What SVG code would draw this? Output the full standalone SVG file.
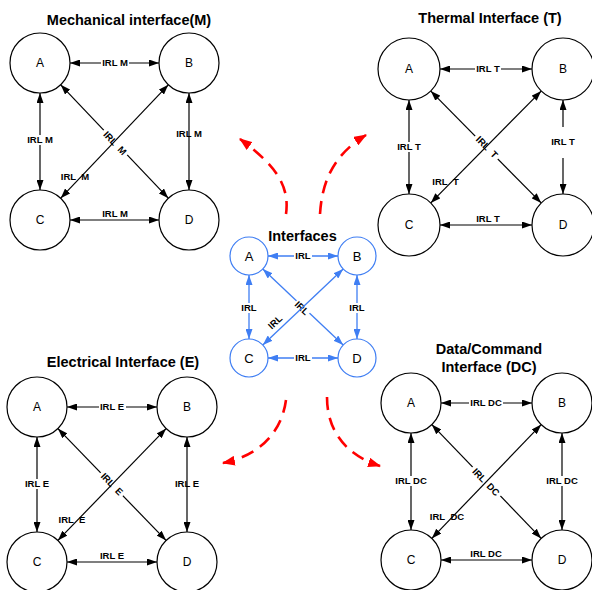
<svg xmlns="http://www.w3.org/2000/svg" width="592" height="590" viewBox="0 0 592 590">
  <style>
    .title { font-family: "Liberation Sans", Arial, sans-serif; font-weight: bold; font-size: 14.5px; text-anchor: middle; fill: #000; }
    .letter { font-family: "Liberation Sans", Arial, sans-serif; font-size: 12px; text-anchor: middle; fill: #000; }
    .letter-c { font-family: "Liberation Sans", Arial, sans-serif; font-size: 13px; text-anchor: middle; fill: #000; }
    .lbl { font-family: "Liberation Sans", Arial, sans-serif; font-weight: bold; font-size: 9.5px; text-anchor: middle; fill: #000; }
    .node { fill: #fff; stroke: #000; stroke-width: 1.2; }
    .node-c { fill: #fff; stroke: #3f7ef3; stroke-width: 1.2; }
    .link { stroke: #000; stroke-width: 1.2; fill: none; marker-start: url(#headK); marker-end: url(#headK); }
    .link-c { stroke: #3f7ef3; stroke-width: 1.3; fill: none; marker-start: url(#headB); marker-end: url(#headB); }
    .bg { fill: #fff; }
    .flow { stroke: #ff0000; stroke-width: 2.6; fill: none; stroke-dasharray: 13 8; marker-end: url(#headR); }
  </style>
  <defs>
    <marker id="headK" viewBox="0 0 10 7" refX="10" refY="3.5" markerWidth="10" markerHeight="7" markerUnits="userSpaceOnUse" orient="auto-start-reverse">
      <path d="M0,0 L10,3.5 L0,7 z" fill="#000"/>
    </marker>
    <marker id="headB" viewBox="0 0 10 7" refX="10" refY="3.5" markerWidth="10" markerHeight="7" markerUnits="userSpaceOnUse" orient="auto-start-reverse">
      <path d="M0,0 L10,3.5 L0,7 z" fill="#3f7ef3"/>
    </marker>
    <marker id="headR" viewBox="0 0 12 9" refX="11" refY="4.5" markerWidth="13" markerHeight="10" markerUnits="userSpaceOnUse" orient="auto">
      <path d="M0,0 L12,4.5 L0,9 z" fill="#ff0000"/>
    </marker>
  </defs>

  <!-- titles -->
  <text class="title" x="129" y="25">Mechanical interface(M)</text>
  <text class="title" x="490" y="23">Thermal Interface (T)</text>
  <text class="title" x="302.5" y="241">Interfaces</text>
  <text class="title" x="123" y="367">Electrical Interface (E)</text>
  <text class="title" x="489" y="354">Data/Command</text>
  <text class="title" x="489" y="372">Interface (DC)</text>

  <!-- connectors -->
  <g id="connectors">
    <!-- mechanical -->
    <g id="links-m">
      <line class="link" x1="70" y1="63" x2="159" y2="63"/>
      <rect class="bg" x="101" y="58" width="28" height="10"/>
      <text class="lbl" x="115" y="66.4">IRL M</text>
      <line class="link" x1="40" y1="93" x2="40" y2="190"/>
      <rect class="bg" x="26" y="135" width="28" height="10"/>
      <text class="lbl" x="40" y="143.4">IRL M</text>
      <line class="link" x1="189" y1="93" x2="189" y2="190"/>
      <text class="lbl" x="189" y="137.4">IRL M</text>
      <line class="link" x1="70" y1="220" x2="159" y2="220"/>
      <text class="lbl" x="115" y="217">IRL M</text>
      <line class="link" x1="60.7" y1="84.8" x2="168.3" y2="198.2"/>
      <g transform="translate(115,143) rotate(46.5)">
        <rect class="bg" x="-17" y="-5" width="34" height="10"/>
        <text class="lbl" y="3.4">IRL&#160; M</text>
      </g>
      <line class="link" x1="168.3" y1="84.8" x2="60.7" y2="198.2"/>
      <text class="lbl" x="75" y="180.4">IRL&#160; M</text>
    </g>
    <!-- thermal -->
    <g id="links-t">
      <line class="link" x1="440" y1="69" x2="532" y2="69"/>
      <rect class="bg" x="475" y="64" width="26" height="10"/>
      <text class="lbl" x="488" y="72.4">IRL T</text>
      <line class="link" x1="409" y1="100" x2="409" y2="194"/>
      <rect class="bg" x="396" y="142" width="26" height="10"/>
      <text class="lbl" x="409" y="150.4">IRL T</text>
      <line class="link" x1="563" y1="100" x2="563" y2="194"/>
      <rect class="bg" x="549" y="127" width="28" height="31"/>
      <text class="lbl" x="563" y="145.4">IRL T</text>
      <line class="link" x1="440" y1="225" x2="532" y2="225"/>
      <text class="lbl" x="488" y="222">IRL T</text>
      <line class="link" x1="430.8" y1="91.1" x2="541.2" y2="202.9"/>
      <g transform="translate(487,147) rotate(45.4)">
        <rect class="bg" x="-16" y="-5" width="32" height="10"/>
        <text class="lbl" y="3.4">IRL&#160; T</text>
      </g>
      <line class="link" x1="541.2" y1="91.1" x2="430.8" y2="202.9"/>
      <text class="lbl" x="445.5" y="185.4">IRL&#160; T</text>
    </g>
    <!-- electrical -->
    <g id="links-e">
      <line class="link" x1="67" y1="407" x2="157" y2="407"/>
      <rect class="bg" x="99" y="402" width="27" height="10"/>
      <text class="lbl" x="112" y="410.4">IRL E</text>
      <line class="link" x1="37" y1="437" x2="37" y2="532"/>
      <rect class="bg" x="23" y="479" width="28" height="10"/>
      <text class="lbl" x="37" y="487.4">IRL E</text>
      <line class="link" x1="187" y1="437" x2="187" y2="532"/>
      <text class="lbl" x="187" y="487.4">IRL E</text>
      <line class="link" x1="67" y1="562" x2="157" y2="562"/>
      <text class="lbl" x="112" y="559">IRL E</text>
      <line class="link" x1="57.9" y1="428.6" x2="166.1" y2="540.4"/>
      <g transform="translate(112,484) rotate(45.9)">
        <rect class="bg" x="-16" y="-5" width="32" height="10"/>
        <text class="lbl" y="3.4">IRL&#160; E</text>
      </g>
      <line class="link" x1="166.1" y1="428.6" x2="57.9" y2="540.4"/>
      <text class="lbl" x="72" y="523.4">IRL&#160; E</text>
    </g>
    <!-- data / command -->
    <g id="links-dc">
      <line class="link" x1="441" y1="403" x2="532" y2="403"/>
      <rect class="bg" x="469" y="398" width="34" height="10"/>
      <text class="lbl" x="486" y="406.4">IRL DC</text>
      <line class="link" x1="411" y1="433" x2="411" y2="530"/>
      <rect class="bg" x="394" y="476" width="34" height="10"/>
      <text class="lbl" x="411" y="484.4">IRL DC</text>
      <line class="link" x1="562" y1="433" x2="562" y2="530"/>
      <rect class="bg" x="545" y="476" width="34" height="10"/>
      <text class="lbl" x="562" y="484.4">IRL DC</text>
      <line class="link" x1="441" y1="560" x2="532" y2="560"/>
      <text class="lbl" x="486" y="557">IRL DC</text>
      <line class="link" x1="431.8" y1="424.6" x2="541.2" y2="538.4"/>
      <g transform="translate(486,482) rotate(46.1)">
        <rect class="bg" x="-20" y="-5" width="40" height="10"/>
        <text class="lbl" y="3.4">IRL&#160; DC</text>
      </g>
      <line class="link" x1="541.2" y1="424.6" x2="431.8" y2="538.4"/>
      <text class="lbl" x="447" y="520.4">IRL&#160; DC</text>
    </g>
    <!-- central interfaces -->
    <g id="links-c">
      <line class="link-c" x1="268" y1="256" x2="338" y2="256"/>
      <rect class="bg" x="294" y="251" width="18" height="10"/>
      <text class="lbl" x="303" y="259.4">IRL</text>
      <line class="link-c" x1="249" y1="275" x2="249" y2="339"/>
      <rect class="bg" x="240" y="303" width="18" height="10"/>
      <text class="lbl" x="249" y="311.4">IRL</text>
      <line class="link-c" x1="357" y1="275" x2="357" y2="339"/>
      <rect class="bg" x="348" y="303" width="18" height="10"/>
      <text class="lbl" x="357" y="311.4">IRL</text>
      <line class="link-c" x1="268" y1="358" x2="338" y2="358"/>
      <rect class="bg" x="294" y="353" width="18" height="10"/>
      <text class="lbl" x="303" y="361.4">IRL</text>
      <line class="link-c" x1="262.8" y1="269" x2="343.2" y2="345"/>
      <g transform="translate(302,308) rotate(43.4)">
        <rect class="bg" x="-9" y="-5" width="18" height="10"/>
        <text class="lbl" y="3.4">IRL</text>
      </g>
      <line class="link-c" x1="343.2" y1="269" x2="262.8" y2="345"/>
      <text class="lbl" transform="translate(275,322) rotate(-43.4)" y="3.4">IRL</text>
    </g>
    <!-- dashed flows from the central view out to each interface -->
    <g id="flows">
      <path class="flow" d="M286,214 C290,185 275,165 240,139"/>
      <path class="flow" d="M320,214 C322,182 333,155 366,135"/>
      <path class="flow" d="M286,400 C282,430 262,455 223,463"/>
      <path class="flow" d="M327,397 C327,430 345,455 380,466"/>
    </g>
  </g>

  <!-- mechanical nodes -->
  <g id="m-A"><circle class="node" cx="40" cy="63" r="30"/><text class="letter" x="40" y="67.3">A</text></g>
  <g id="m-B"><circle class="node" cx="189" cy="63" r="30"/><text class="letter" x="189" y="67.3">B</text></g>
  <g id="m-C"><circle class="node" cx="40" cy="220" r="30"/><text class="letter" x="40" y="224.3">C</text></g>
  <g id="m-D"><circle class="node" cx="189" cy="220" r="30"/><text class="letter" x="189" y="224.3">D</text></g>

  <!-- thermal nodes -->
  <g id="t-A"><circle class="node" cx="409" cy="69" r="31"/><text class="letter" x="409" y="73.3">A</text></g>
  <g id="t-B"><circle class="node" cx="563" cy="69" r="31"/><text class="letter" x="563" y="73.3">B</text></g>
  <g id="t-C"><circle class="node" cx="409" cy="225" r="31"/><text class="letter" x="409" y="229.3">C</text></g>
  <g id="t-D"><circle class="node" cx="563" cy="225" r="31"/><text class="letter" x="563" y="229.3">D</text></g>

  <!-- electrical nodes -->
  <g id="e-A"><circle class="node" cx="37" cy="407" r="30"/><text class="letter" x="37" y="411.3">A</text></g>
  <g id="e-B"><circle class="node" cx="187" cy="407" r="30"/><text class="letter" x="187" y="411.3">B</text></g>
  <g id="e-C"><circle class="node" cx="37" cy="562" r="30"/><text class="letter" x="37" y="566.3">C</text></g>
  <g id="e-D"><circle class="node" cx="187" cy="562" r="30"/><text class="letter" x="187" y="566.3">D</text></g>

  <!-- data / command nodes -->
  <g id="dc-A"><circle class="node" cx="411" cy="403" r="30"/><text class="letter" x="411" y="407.3">A</text></g>
  <g id="dc-B"><circle class="node" cx="562" cy="403" r="30"/><text class="letter" x="562" y="407.3">B</text></g>
  <g id="dc-C"><circle class="node" cx="411" cy="560" r="30"/><text class="letter" x="411" y="564.3">C</text></g>
  <g id="dc-D"><circle class="node" cx="562" cy="560" r="30"/><text class="letter" x="562" y="564.3">D</text></g>

  <!-- central interface nodes -->
  <g id="c-A"><circle class="node-c" cx="249" cy="256" r="19"/><text class="letter-c" x="249" y="260.7">A</text></g>
  <g id="c-B"><circle class="node-c" cx="357" cy="256" r="19"/><text class="letter-c" x="357" y="260.7">B</text></g>
  <g id="c-C"><circle class="node-c" cx="249" cy="358" r="19"/><text class="letter-c" x="249" y="362.7">C</text></g>
  <g id="c-D"><circle class="node-c" cx="357" cy="358" r="19"/><text class="letter-c" x="357" y="362.7">D</text></g>
</svg>
